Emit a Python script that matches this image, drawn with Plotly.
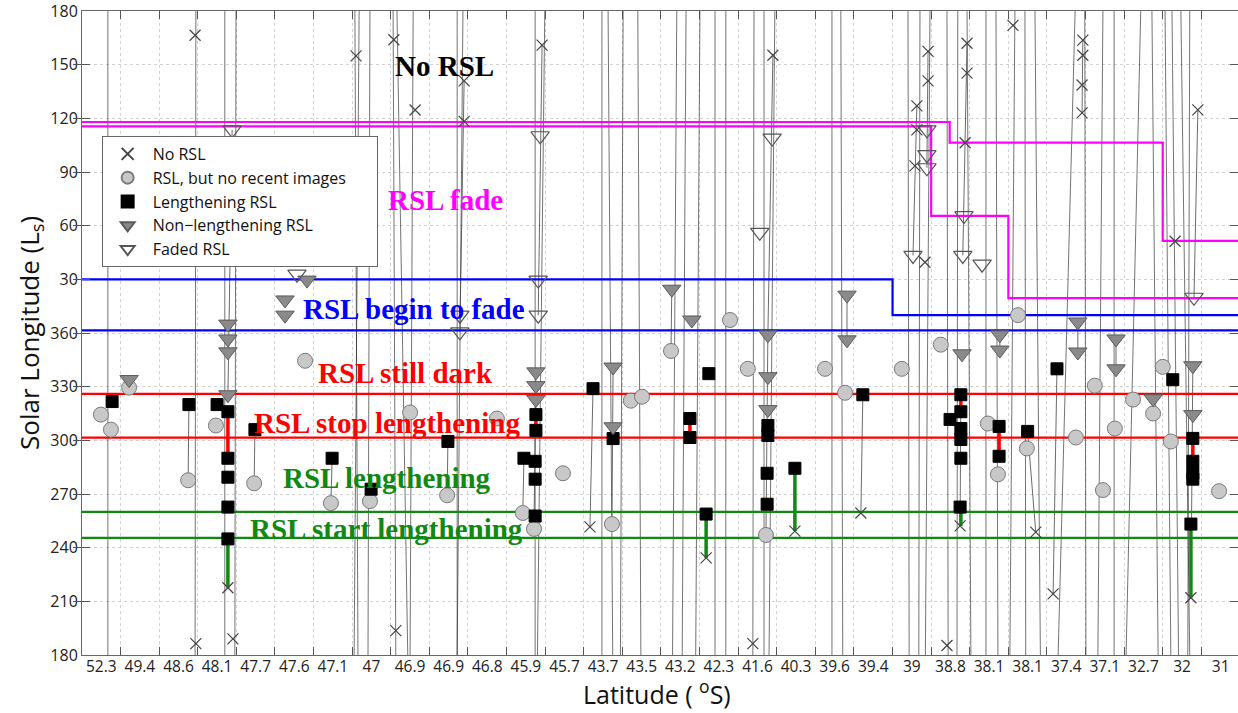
import plotly.graph_objects as go

# ---------------- data ----------------
lat_labels = ["52.3", "49.4", "48.6", "48.1", "47.7", "47.6", "47.1", "47", "46.9", "46.9",
              "46.8", "45.9", "45.7", "43.7", "43.5", "43.2", "42.3", "41.6", "40.3", "39.6",
              "39.4", "39", "38.8", "38.1", "38.1", "37.4", "37.1", "32.7", "32", "31"]
site_pos = list(range(1, 31))
ls_ticks = [180, 210, 240, 270, 300, 330, 360, 30, 60, 90, 120, 150, 180]

# No RSL (x)
norsl_x = [3.43, 7.60, 8.58, 9.13, 10.40, 10.40, 12.42, 18.40, 22.42, 22.42, 22.13, 22.13, 22.08,
           22.34, 23.43, 23.43, 23.38, 24.62, 26.43, 26.43, 26.41, 26.41, 29.41, 28.82,
           4.28, 3.45, 4.41, 8.63, 13.66, 16.67, 18.97, 17.88, 20.68, 23.25, 22.91, 25.21, 25.66, 29.23]
norsl_ls = [166.5, 155, 164, 124.7, 141, 118.3, 161, 155.3, 157.5, 141, 127, 113.6, 93.5,
            39.6, 162, 145.3, 106.4, 172, 163.8, 155.3, 138.7, 123.1, 124.8, 51.3,
            217.6, 186.4, 189, 193.6, 251.6, 234.3, 249.3, 186.4, 259.4, 252.2, 185.3, 248.7, 214.2, 212]

# RSL, but no recent images (circles)
old_x = [0.99, 1.25, 1.72, 3.25, 3.97, 4.96, 6.28, 6.95, 7.96, 9.00, 9.96, 11.25, 11.92, 12.21,
         12.96, 14.23, 14.72, 15.01, 15.76, 17.29, 17.75, 18.22, 19.75, 20.27, 21.74, 22.75,
         23.97, 24.23, 24.75, 24.98, 26.25, 26.74, 26.95, 27.26, 27.73, 28.25, 28.50, 28.71, 29.96]
old_ls = [314.4, 306, 329.5, 277.7, 308.3, 276, 344.5, 264.9, 266, 315.6, 269.3, 312.2, 259.4, 250.5,
          281.6, 253.2, 322.2, 324.4, 350, 7.3, 340, 247.1, 340, 326.6, 340, 353.5,
          309.4, 281, 10, 295.5, 301.6, 330.6, 272.2, 306.6, 322.8, 315, 341.1, 299.4, 271.6]

# Lengthening RSL (black squares)
len_x = [1.28, 3.27, 4.00, 4.28, 4.28, 4.28, 4.28, 4.28, 4.98, 6.98, 7.99, 9.98, 11.95, 12.26, 12.26,
         12.24, 12.24, 12.24, 13.74, 14.26, 16.25, 16.25, 16.67, 16.74, 18.27, 18.27, 18.25, 18.25,
         18.97, 20.73, 23.27, 23.27, 22.99, 23.27, 23.27, 23.27, 23.25, 24.26, 24.26, 25.00, 25.76,
         28.76, 29.28, 29.28, 29.28, 29.28, 29.23]
len_ls = [321.7, 320, 320, 316, 290, 279.4, 262.7, 244.9, 306, 290, 272.7, 299.4, 290, 314.4, 305.6,
          288.3, 278.3, 257.7, 328.9, 301, 312.2, 301.6, 258.8, 337.3, 308.3, 302.7, 281.6, 264.3,
          284.4, 325.5, 325.5, 316, 311.7, 306.6, 300.5, 290, 262.7, 307.8, 291.1, 305, 340,
          333.9, 301.1, 288.3, 281.6, 278.3, 253.2]

# Non-lengthening RSL (grey filled triangles)
nonlen_x = [1.72, 4.28, 4.28, 4.28, 4.28, 5.76, 5.76, 6.33, 12.26, 12.26, 12.26, 14.26, 14.26, 15.78,
            16.30, 18.27, 18.27, 18.27, 20.32, 20.32, 23.30, 24.28, 24.28, 26.30, 26.30, 27.29, 27.29,
            28.25, 29.28, 29.28]
nonlen_ls = [334, 5, 356.7, 349.5, 325.5, 18.5, 10, 29.6, 338.3, 330.6, 322.8, 341, 307.6, 24.5,
             7.3, 359, 335.6, 317.2, 21.2, 356.2, 348.4, 359, 350.5, 6.2, 349.4, 356.7, 340,
             323.3, 341.7, 314.4]

# Faded RSL (open triangles)
faded_x = [4.39, 6.07, 10.29, 10.29, 12.37, 12.32, 12.32, 18.38, 18.06, 22.39, 22.39, 22.39, 22.03,
           23.35, 23.32, 23.82, 29.31]
faded_ls = [113.6, 32.9, 10, 0.7, 110.3, 29.6, 10, 109, 56.3, 113.6, 99.7, 92.4, 43.4,
            65.7, 43.4, 38.5, 20]

# season boundaries
fade_upper_x = [0.5, 22.98, 28.5, 30.5]
fade_upper_ls = [118, 106.5, 51.5, 51.5]
fade_lower_x = [0.5, 22.5, 24.5, 30.5]
fade_lower_ls = [115.5, 65.5, 19.5, 19.5]
begin_fade_x = [0.5, 21.5, 30.5]
begin_fade_ls = [30, 10, 10]
begin_fade2_ls = 1.5
still_dark_ls = 326
stop_len_ls = 301.5
lengthening_ls = 260
start_len_ls = 245.5

# red (stop lengthening) and green (start lengthening) intervals at sites
red_x = [4.28, 12.26, 16.25, 18.27, 23.27, 24.26, 29.28]
red_from = [316, 314.4, 312.2, 308.3, 325.5, 307.8, 301.1]
red_to = [290, 305.6, 301.6, 302.7, 316, 291.1, 288.3]
green_x = [4.28, 16.67, 18.97, 23.27, 29.23]
green_from = [244.9, 258.8, 284.4, 262.7, 253.2]
green_to = [217.6, 234.3, 249.3, 252.2, 212]

# thin links between observations of one site
link_x0 = [3.27, 4.98, 6.98, 9.98, 12.26, 14.26, 18.27, 20.32, 20.73, 22.42, 22.13, 23.43, 26.43,
           29.41, 23.27, 25.00, 25.76, 29.28, 27.29, 26.30, 24.28, 28.25, 13.74, 12.42, 18.40,
           10.40, 4.39, 15.78, 7.99, 1.72, 11.95]
link_ls0 = [320, 306, 290, 299.4, 338.3, 341, 359, 21.2, 325.5, 157.5, 127, 162, 163.8,
            124.8, 325.5, 305, 340, 341.7, 356.7, 6.2, 359, 323.3, 328.9, 161, 155.3,
            141, 113.6, 24.5, 272.7, 334, 290]
link_x1 = [3.25, 4.96, 6.95, 9.96, 12.21, 14.23, 18.22, 20.32, 20.68, 22.39, 22.03, 23.32, 26.41,
           29.31, 23.25, 25.21, 25.66, 29.23, 27.29, 26.30, 24.28, 28.25, 13.66, 12.32, 18.27,
           10.29, 4.28, 15.76, 7.96, 1.72, 11.92]
link_ls1 = [277.7, 276, 264.9, 269.3, 250.5, 253.2, 247.1, 356.2, 259.4, 92.4, 43.4, 43.4, 123.1,
            20, 252.2, 248.7, 214.2, 212, 340, 349.4, 350.5, 315, 251.6, 10, 359,
            0.7, 325.5, 350, 266, 329.5, 259.4]

# observation sequences wrapping from Ls 180 (top) to Ls 180 (bottom)
wrap_x_top = [1.17, 3.45, 4.20, 4.49, 7.57, 7.68, 7.96, 8.56, 8.66, 9.08, 10.22, 10.37, 12.24, 12.49,
              13.97, 14.13, 14.52, 14.90, 15.91, 16.15, 16.51, 16.90, 17.18, 17.91, 18.17, 18.45,
              19.93, 20.16, 21.90, 22.21, 22.47, 22.91, 23.19, 23.43, 23.92, 24.18, 24.67, 24.93,
              25.19, 26.23, 26.48, 26.95, 27.24, 27.93, 28.22, 28.56, 28.74, 28.97, 29.20]
wrap_x_bottom = [1.17, 3.43, 4.20, 4.46, 7.65, 7.55, 7.91, 8.63, 8.94, 9.00, 10.22, 10.22, 12.24, 12.30,
                 13.97, 14.25, 14.45, 14.98, 15.80, 16.05, 16.40, 16.90, 17.18, 17.88, 18.17, 18.30,
                 19.93, 20.21, 21.93, 22.18, 22.35, 22.94, 23.17, 23.53, 23.92, 24.23, 24.54, 24.95,
                 25.33, 25.79, 26.51, 26.82, 27.24, 27.55, 28.38, 28.71, 28.91, 29.20, 29.15]


def unwrap(v):
    # Ls runs 180 -> 360 -> 180 on the axis
    return v if v >= 180 else v + 360


def uw(seq):
    return [unwrap(v) for v in seq]


fig = go.Figure()

# wrap lines
wx, wy = [], []
for xb, xt in zip(wrap_x_bottom, wrap_x_top):
    wx += [xb, xt, None]
    wy += [180, 540, None]
fig.add_trace(go.Scatter(x=wx, y=wy, mode="lines", line=dict(color="rgba(30,30,30,0.62)", width=1),
                         showlegend=False, hoverinfo="skip"))

# links
lx, ly = [], []
for a, b, c, d in zip(link_x0, link_ls0, link_x1, link_ls1):
    lx += [a, c, None]
    ly += [unwrap(b), unwrap(d), None]
fig.add_trace(go.Scatter(x=lx, y=ly, mode="lines", line=dict(color="rgba(70,70,70,0.8)", width=1),
                         showlegend=False, hoverinfo="skip"))

# boundary lines
fig.add_trace(go.Scatter(x=fade_upper_x, y=uw(fade_upper_ls), mode="lines", line_shape="hv",
                         line=dict(color="#ff00ff", width=2.2), showlegend=False, hoverinfo="skip"))
fig.add_trace(go.Scatter(x=fade_lower_x, y=uw(fade_lower_ls), mode="lines", line_shape="hv",
                         line=dict(color="#ff00ff", width=2.2), showlegend=False, hoverinfo="skip"))
fig.add_trace(go.Scatter(x=begin_fade_x, y=uw(begin_fade_ls), mode="lines", line_shape="hv",
                         line=dict(color="#0000ff", width=2.2), showlegend=False, hoverinfo="skip"))
for val, col in [(begin_fade2_ls, "#0000ff"), (still_dark_ls, "#ff0000"), (stop_len_ls, "#ff0000"),
                 (lengthening_ls, "#118811"), (start_len_ls, "#118811")]:
    fig.add_trace(go.Scatter(x=[0.5, 30.5], y=[unwrap(val)] * 2, mode="lines",
                             line=dict(color=col, width=2.2), showlegend=False, hoverinfo="skip"))

# red / green intervals
rx, ry = [], []
for x, a, b in zip(red_x, red_from, red_to):
    rx += [x, x, None]
    ry += [unwrap(a), unwrap(b), None]
fig.add_trace(go.Scatter(x=rx, y=ry, mode="lines", line=dict(color="#ff0000", width=3.5),
                         showlegend=False, hoverinfo="skip"))
gx, gy = [], []
for x, a, b in zip(green_x, green_from, green_to):
    gx += [x, x, None]
    gy += [unwrap(a), unwrap(b), None]
fig.add_trace(go.Scatter(x=gx, y=gy, mode="lines", line=dict(color="#118811", width=3.5),
                         showlegend=False, hoverinfo="skip"))

# markers
fig.add_trace(go.Scatter(x=norsl_x, y=uw(norsl_ls), mode="markers", name="No RSL",
                         marker=dict(symbol="x-thin-open", size=11, color="#444",
                                     line=dict(color="#444", width=1.2))))
fig.add_trace(go.Scatter(x=old_x, y=uw(old_ls), mode="markers",
                         name="RSL, but no recent images\u00a0\u00a0\u00a0\u00a0\u00a0\u00a0",
                         marker=dict(symbol="circle", size=15, color="#c8c8c8",
                                     line=dict(color="#7a7a7a", width=1))))
fig.add_trace(go.Scatter(x=len_x, y=uw(len_ls), mode="markers", name="Lengthening RSL",
                         marker=dict(symbol="square", size=12, color="#000000",
                                     line=dict(color="#000", width=1))))
fig.add_trace(go.Scatter(x=nonlen_x, y=uw(nonlen_ls), mode="markers", name="Non\u2212lengthening RSL",
                         marker=dict(symbol="triangle-down", size=16, color="#8a8a8a",
                                     line=dict(color="#5a5a5a", width=1))))
fig.add_trace(go.Scatter(x=faded_x, y=uw(faded_ls), mode="markers", name="Faded RSL",
                         marker=dict(symbol="triangle-down-open", size=16, color="#555",
                                     line=dict(color="#555", width=1.2))))

# dummy trace for label axis
fig.add_trace(go.Scatter(x=[1], y=[180], xaxis="x2", mode="markers", marker=dict(opacity=0),
                         showlegend=False, hoverinfo="skip"))

serif = "Liberation Serif"
notes = [("No RSL", 9.90, 509.3, "#000000"), ("RSL fade", 9.92, 434.2, "#ff00ff"),
         ("RSL begin to fade", 9.11, 373.5, "#0000ff"), ("RSL still dark", 8.88, 337.9, "#ff0000"),
         ("RSL stop lengthening", 8.40, 309.5, "#ff0000"), ("RSL lengthening", 8.41, 278.8, "#118811"),
         ("RSL start lengthening", 8.39, 250.4, "#118811")]
for txt, x, y, c in notes:
    fig.add_annotation(x=x, y=y, xref="x", yref="y", text="<b>" + txt + "</b>", showarrow=False,
                       font=dict(family=serif, size=29, color=c))

sans = "Open Sans"
fig.add_annotation(x=-0.045, y=0.5, xref="paper", yref="paper", xanchor="center", yanchor="middle",
                   text="Solar Longitude (L<sub>s</sub>)",
                   textangle=-90, showarrow=False, font=dict(family=sans, size=26, color="#111"))
fig.add_annotation(x=0.497, y=-0.059, xref="paper", yref="paper", yanchor="middle",
                   text="Latitude ( <sup>o</sup>S)", showarrow=False,
                   font=dict(family=sans, size=25, color="#111"))

xr = [0.5, 30.45]
fig.update_layout(
    width=1238, height=713, autosize=False,
    margin=dict(l=82, r=0, t=11, b=58, autoexpand=False),
    plot_bgcolor="white", paper_bgcolor="white",
    font=dict(family=sans, size=15, color="#222"),
    xaxis=dict(range=xr, tickvals=[i + 0.5 for i in range(1, 30)], showticklabels=False,
               ticks="inside", ticklen=8, tickcolor="#555", mirror="allticks", showline=True,
               linecolor="#666", linewidth=1, showgrid=True, gridcolor="#d2d2d2", griddash="dot",
               gridwidth=1, zeroline=False, automargin=False),
    xaxis2=dict(range=xr, overlaying="x", anchor="y", side="bottom", tickvals=site_pos,
                ticktext=lat_labels, ticks="", showgrid=False, showline=False, zeroline=False,
                automargin=False, ticklabelstandoff=0,
                tickfont=dict(family=sans, size=15.5, color="#222")),
    yaxis=dict(range=[180, 540.05], tickvals=[180 + 30 * i for i in range(13)],
               ticktext=[str(v) for v in ls_ticks], ticks="inside", ticklen=8, tickcolor="#555",
               mirror="allticks", showline=True, linecolor="#666", linewidth=1, showgrid=True,
               gridcolor="#d2d2d2", griddash="dot", zeroline=False, automargin=False,
               ticklabeloverflow="allow",
               tickfont=dict(family=sans, size=16, color="#222")),
    legend=dict(x=0.017, y=0.806, xanchor="left", yanchor="top", bgcolor="white",
                bordercolor="#666", borderwidth=1, font=dict(family=sans, size=16, color="#111"),
                itemsizing="constant", itemwidth=40),
)

fig.write_html("out.html", config={"displayModeBar": False},
               post_script="document.body.style.margin='0';document.body.style.overflow='hidden';")
